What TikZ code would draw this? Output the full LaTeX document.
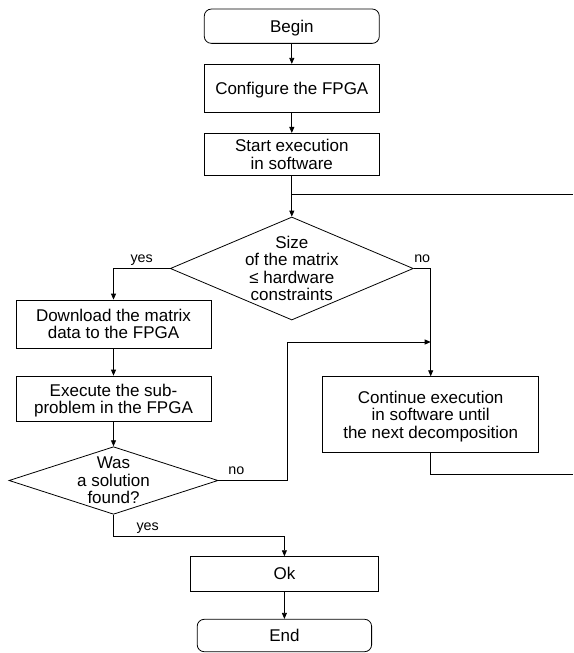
\documentclass[tikz,border=0pt]{standalone}
\usepackage{fontspec}
\setmainfont{Liberation Sans}
\usetikzlibrary{shapes.geometric,arrows.meta}
\begin{document}
\begin{tikzpicture}[x=1pt,y=-1pt,
		every node/.style={font=\fontsize{17}{17.5}\selectfont},
		box/.style={draw,line width=0.8pt,align=center,inner sep=0pt,text depth=0pt,minimum width=175pt},
		term/.style={box,rounded corners=7pt},
		decision/.style={draw,line width=0.8pt,diamond,align=center,inner sep=-20pt},
		arr/.style={-{Triangle[length=6pt,width=5pt]},line width=0.8pt},
		lbl/.style={font=\fontsize{14.3}{15}\selectfont,text depth=0pt,inner sep=5.5pt}]
		\useasboundingbox (0,0) rectangle (573,653);
		\node[term,minimum height=34.3pt] (begin) at (291.8,26.2) {Begin};
		\node[box,minimum height=48pt] (cfg) at (291.8,88.3) {Configure the FPGA};
		\node[box,minimum height=41.7pt] (start) at (291.8,154.2) {Start execution\\in software};
		\node[decision,minimum width=243pt,minimum height=103pt] (size) at (291.8,268.5) {Size\\of the matrix\\≤ hardware\\constraints};
		\node[box,minimum width=195pt,minimum height=48pt] (dl) at (113.5,324) {Download the matrix\\data to the FPGA};
		\node[box,minimum width=195pt,minimum height=45.7pt] (exec) at (113.5,398.9) {Execute the sub-\\problem in the FPGA};
		\node[decision,minimum width=209pt,minimum height=67.6pt] (found) at (113.5,480.5) {Was\\a solution\\found?};
		\node[box,minimum width=216pt,minimum height=75.6pt] (cont) at (430.7,414.5) {Continue execution\\in software until\\the next decomposition};
		\node[box,minimum width=188.7pt,minimum height=34.3pt] (ok) at (284.4,573.8) {Ok};
		\node[term,minimum width=174.4pt,minimum height=32.4pt] (end) at (284.4,635.5) {End};
		\coordinate (split) at (291.8,194);
		\coordinate (outa) at (573,194);
		\coordinate (outb) at (573,474.7);
		\coordinate (back) at (287.3,342);
		\draw[arr] (begin) -- (cfg);
		\draw[arr] (cfg) -- (start);
		\draw[arr] (start) -- (size);
		\draw[line width=0.8pt] (split) -- (outa);
		\draw[arr] (size.west) -| node[lbl,above,pos=0.25] (yesa) {yes} (dl.north);
		\draw[arr] (size.east) -| node[lbl,above,pos=0.25] (noa) {no} (cont.north);
		\draw[arr] (dl) -- (exec);
		\draw[arr] (exec) -- (found);
		\draw[arr] (found.east) -- node[lbl,above,pos=0.26] (nob) {no} (found.east -| back) |- (cont.north |- back);
		\draw[arr] (found.south) -- ++(0,21.4) -| node[lbl,above,pos=0.1] (yesb) {yes} (ok.north);
		\draw[line width=0.8pt] (cont.south) |- (outb);
		\draw[arr] (ok) -- (end);
		\end{tikzpicture}
\end{document}
